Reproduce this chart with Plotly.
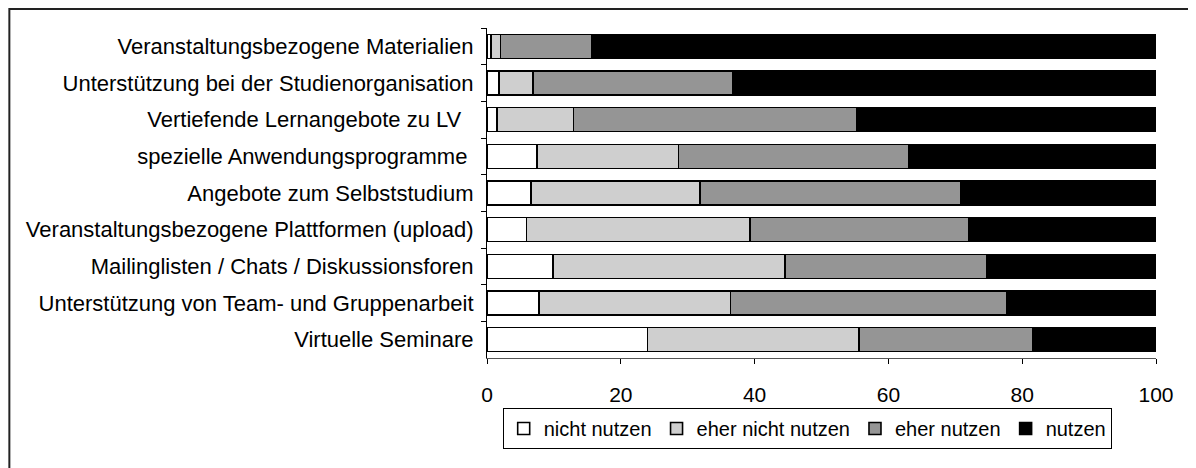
import plotly.graph_objects as go

categories = [
    "Veranstaltungsbezogene Materialien",
    "Unterstützung bei der Studienorganisation",
    "Vertiefende Lernangebote zu LV\u00a0\u00a0",
    "spezielle Anwendungsprogramme\u00a0",
    "Angebote zum Selbststudium",
    "Veranstaltungsbezogene Plattformen (upload)",
    "Mailinglisten / Chats / Diskussionsforen",
    "Unterstützung von Team- und Gruppenarbeit",
    "Virtuelle Seminare",
]
nicht_nutzen = [0.6, 1.8, 1.45, 7.5, 6.6, 5.9, 9.9, 7.8, 24.0]
eher_nicht_nutzen = [1.4, 5.1, 11.45, 21.1, 25.2, 33.4, 34.6, 28.6, 31.6]
eher_nutzen = [13.7, 29.9, 42.4, 34.5, 39.0, 32.7, 30.2, 41.3, 26.0]
nutzen = [84.3, 63.2, 44.7, 36.9, 29.2, 28.0, 25.3, 22.3, 18.4]

series_names = ["nicht nutzen", "eher nicht nutzen", "eher nutzen", "nutzen"]
series_values = [nicht_nutzen, eher_nicht_nutzen, eher_nutzen, nutzen]
series_colors = ["#ffffff", "#cfcfcf", "#959595", "#000000"]
x_ticks = [0, 20, 40, 60, 80, 100]

FONT = "Liberation Sans, Arial, sans-serif"

fig = go.Figure()
for name, vals, col in zip(series_names, series_values, series_colors):
    fig.add_trace(go.Bar(
        y=categories, x=vals, name=name, orientation="h",
        marker=dict(color=col, line=dict(color="#000000", width=1.6)),
        hoverinfo="x+y",
    ))

OFF = 8  # page body margin
W, H = 1196 - OFF, 468 - OFF
L = 487 - OFF
T = 28 - OFF
plot_right = 1156.5 - OFF
plot_bottom = 358 - OFF
R = W - plot_right
B = H - plot_bottom
pw, ph = plot_right - L, plot_bottom - T

fig.update_layout(
    width=W, height=H,
    barmode="stack", bargap=0.345,
    margin=dict(l=L, r=R, t=T, b=B, autoexpand=False),
    paper_bgcolor="white", plot_bgcolor="white",
    font=dict(family=FONT, size=21, color="#000000"),
    showlegend=True,
    legend=dict(
        orientation="h", x=(502.7 - OFF - L) / pw, xanchor="left",
        y=(plot_bottom - (408 - OFF)) / ph, yanchor="top",
        bordercolor="#000000", borderwidth=1, bgcolor="white",
        font=dict(family=FONT, size=20, color="#000000"),
        traceorder="normal", itemwidth=30,
        tracegroupgap=0,
    ),
    xaxis=dict(
        range=[0, 100], tickvals=x_ticks, ticktext=[str(v) for v in x_ticks],
        showgrid=False, zeroline=False,
        showline=True, linecolor="#555555", linewidth=1.2,
        ticks="outside", ticklen=5, tickcolor="#000000",
        ticklabelstandoff=13,
        tickfont=dict(family=FONT, size=21, color="#000000"),
        fixedrange=True,
    ),
    yaxis=dict(
        categoryorder="array", categoryarray=categories, autorange="reversed",
        showgrid=False, zeroline=False,
        showline=True, linecolor="#000000", linewidth=1.2,
        ticks="outside", tickson="boundaries", ticklen=5, tickcolor="#000000",
        ticklabelstandoff=8,
        tickfont=dict(family=FONT, size=22, color="#000000"),
        fixedrange=True,
    ),
    shapes=[dict(
        type="rect", xref="paper", yref="paper",
        x0=(9 - OFF - L) / pw, x1=(W + 20 - L) / pw,
        y0=(plot_bottom - (9 - OFF)) / ph, y1=(plot_bottom - (H + 20)) / ph,
        line=dict(color="#222222", width=2), fillcolor="rgba(0,0,0,0)",
        layer="below",
    )],
)

fig.write_html("out.html")
